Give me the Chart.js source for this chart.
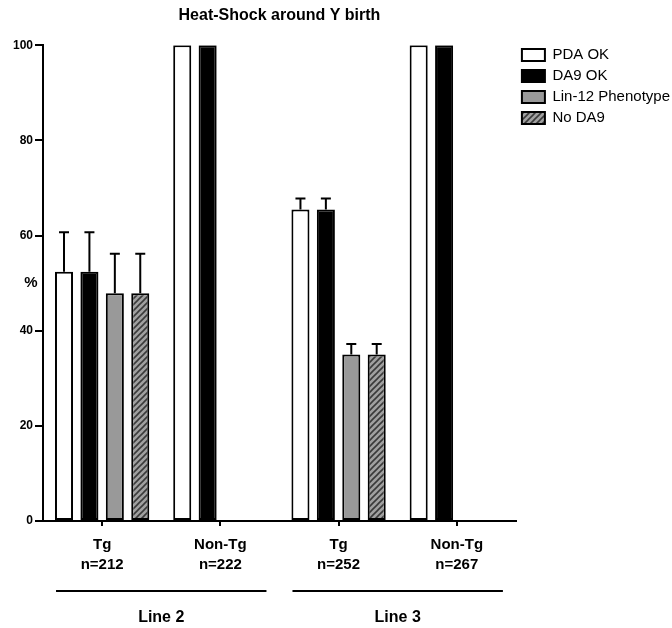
<!DOCTYPE html>
<html><head><meta charset="utf-8">
<script src="https://cdn.jsdelivr.net/npm/chart.js@4"></script>
<style>html,body{margin:0;padding:0;background:#fff}#wrap{width:672px;height:628px}</style>
</head><body><div id="wrap"><canvas id="c" width="672" height="628"></canvas></div>
<script>
const categories = [['Tg','n=212'],['Non-Tg','n=222'],['Tg','n=252'],['Non-Tg','n=267']];
const groupNames = ['Line 2','Line 3'];
const seriesNames = ['PDA OK','DA9 OK','Lin-12 Phenotype','No DA9'];
const pdaOK    = [52.4, 100, 65.5, 100];
const pdaOKErr = [8.3, 0, 2.3, 0];
const da9OK    = [52.4, 100, 65.5, 100];
const da9OKErr = [8.3, 0, 2.3, 0];
const lin12    = [47.9, 0, 35.0, 0];
const lin12Err = [8.3, 0, 2.2, 0];
const noDA9    = [47.9, 0, 35.0, 0];
const noDA9Err = [8.3, 0, 2.2, 0];
const yTickStep = 20;
const yMax = 100;
const titleText = 'Heat-Shock around Y birth';
const yLabel = '%';

const FONT = '"Liberation Sans", Arial, Helvetica, sans-serif';

function hatch() {
  const s = 6;
  const pc = document.createElement('canvas');
  pc.width = s; pc.height = s;
  const g = pc.getContext('2d');
  g.fillStyle = '#a0a0a0';
  g.fillRect(0, 0, s, s);
  g.strokeStyle = '#3a3a3a';
  g.lineWidth = 1.6;
  g.beginPath();
  g.moveTo(-1, s + 1); g.lineTo(s + 1, -1);
  g.moveTo(-1, 1); g.lineTo(1, -1);
  g.moveTo(s - 1, s + 1); g.lineTo(s + 1, s - 1);
  g.stroke();
  return g.createPattern(pc, 'repeat');
}

const errorBars = {
  id: 'errorBars',
  afterDatasetsDraw(chart) {
    const ctx = chart.ctx;
    const ys = chart.scales.y;
    chart.data.datasets.forEach((ds, di) => {
      const meta = chart.getDatasetMeta(di);
      ds.errors.forEach((e, i) => {
        if (!e) return;
        const bar = meta.data[i];
        const top = ys.getPixelForValue(ds.data[i] + e);
        ctx.save();
        ctx.strokeStyle = '#000';
        ctx.lineWidth = 2;
        ctx.beginPath();
        ctx.moveTo(bar.x, bar.y);
        ctx.lineTo(bar.x, top);
        ctx.moveTo(bar.x - 5, top);
        ctx.lineTo(bar.x + 5, top);
        ctx.stroke();
        ctx.restore();
      });
    });
  }
};

const extras = {
  id: 'extras',
  afterDraw(chart) {
    const ctx = chart.ctx;
    const xs = chart.scales.x, ys = chart.scales.y;
    const area = chart.chartArea;
    ctx.save();
    ctx.fillStyle = '#000';
    ctx.font = 'bold 15px ' + FONT;
    ctx.textAlign = 'center';
    ctx.textBaseline = 'middle';
    ctx.fillText(yLabel, area.left - 12, ys.getPixelForValue(yMax / 2));
    ctx.font = 'bold 16px ' + FONT;
    const catW = xs.getPixelForValue(1) - xs.getPixelForValue(0);
    groupNames.forEach((name, g) => {
      const c = (xs.getPixelForValue(2 * g) + xs.getPixelForValue(2 * g + 1)) / 2;
      const half = 0.89 * catW;
      ctx.strokeStyle = '#000';
      ctx.lineWidth = 2;
      ctx.beginPath();
      ctx.moveTo(c - half, area.bottom + 70);
      ctx.lineTo(c + half, area.bottom + 70);
      ctx.stroke();
      ctx.fillText(name, c, area.bottom + 96);
    });
    ctx.restore();
  }
};

const pattern = hatch();
const mk = (label, data, errors, bg) => ({
  label, data, errors, backgroundColor: bg, borderColor: '#000', borderWidth: 2,
  borderSkipped: false, categoryPercentage: 0.86, barPercentage: 0.71
});

new Chart(document.getElementById('c'), {
  type: 'bar',
  data: {
    labels: categories,
    datasets: [
      mk(seriesNames[0], pdaOK, pdaOKErr, '#ffffff'),
      mk(seriesNames[1], da9OK, da9OKErr, '#000000'),
      mk(seriesNames[2], lin12, lin12Err, '#999999'),
      mk(seriesNames[3], noDA9, noDA9Err, pattern)
    ]
  },
  options: {
    responsive: false,
    animation: false,
    layout: { padding: { left: 11, right: -8, top: 0, bottom: 44 } },
    plugins: {
      title: {
        display: true, text: titleText, fullSize: false,
        font: { family: FONT, size: 16, weight: 'bold', lineHeight: 1.2 }, color: '#000',
        padding: { top: 6, bottom: 20 }
      },
      legend: {
        position: 'right', align: 'start', fullSize: true,
        title: { display: true, text: ' ', font: { family: FONT, size: 10, lineHeight: 1 }, padding: { top: 31, bottom: 0.5 } },
        labels: {
          boxWidth: 23, boxHeight: 12, padding: 6, color: '#000',
          font: { family: FONT, size: 15 }
        }
      },
      tooltip: { enabled: false }
    },
    scales: {
      x: {
        grid: { display: true, offset: false, drawOnChartArea: false, drawTicks: true, tickLength: 5, color: '#000', lineWidth: 2 },
        border: { display: true, color: '#000', width: 2 },
        ticks: { color: '#000', font: { family: FONT, size: 15, weight: 'bold', lineHeight: 1.33 }, padding: 9, maxRotation: 0 }
      },
      y: {
        min: 0, max: yMax,
        grid: { display: true, drawOnChartArea: false, drawTicks: true, tickLength: 8, color: '#000', lineWidth: 2 },
        border: { display: true, color: '#000', width: 2 },
        ticks: { stepSize: yTickStep, color: '#000', font: { family: FONT, size: 12, weight: 'bold' }, padding: 2 }
      }
    }
  },
  plugins: [errorBars, extras]
});
</script></body></html>
